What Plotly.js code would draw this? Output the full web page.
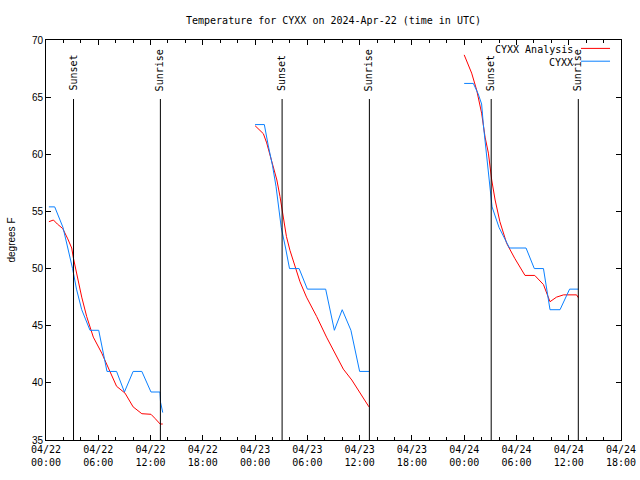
<!DOCTYPE html>
<html>
<head>
<meta charset="utf-8">
<script src="https://cdn.plot.ly/plotly-3.0.1.min.js"></script>
<style>html,body{margin:0;padding:0;background:#fff}#chart{width:640px;height:480px}</style>
</head>
<body>
<div id="chart"></div>
<script>
// Hours after 2024-04-22 00:00 UTC
var analysisHours = [0.33,0.85,1.3,1.92,2.5,2.95,3.15,3.5,4.1,4.67,5.43,6.4,7.35,8.1,9.07,10.0,11.0,12.05,12.5,13.1,13.4,
  null,
  24.0,24.56,24.95,25.33,25.9,26.5,26.86,27.24,27.6,28.0,28.58,29.15,29.9,31.07,32.2,33.17,34.13,35.1,36.04,37.07,
  null,
  48.0,48.5,48.86,49.44,50.0,50.4,50.78,51.16,51.55,52.1,52.88,53.8,54.98,56.1,57.1,57.85,58.6,59.4,60.15,60.9,61.1];
var analysisTemps = [54.1,54.25,53.9,53.5,52.6,51.8,50.9,49.6,47.5,45.8,44.0,42.6,41.0,39.7,39.1,37.9,37.3,37.25,36.9,36.4,36.4,
  null,
  62.5,62.1,61.8,61.0,59.5,57.75,56.3,54.5,52.8,51.6,50.2,48.85,47.5,45.8,44.0,42.6,41.2,40.25,39.1,37.9,
  null,
  68.7,67.8,67.1,65.6,63.6,61.5,60.1,57.75,56.0,54.1,52.2,50.9,49.4,49.4,48.6,47.1,47.5,47.7,47.7,47.7,47.45];

var obsHours = [0.33,1.0,1.95,2.5,3.05,3.5,4.1,5.05,6.05,7.0,8.1,9.0,10.0,11.0,12.05,13.08,13.15,13.4,
  null,
  24.0,25.06,25.5,26.0,26.4,26.7,27.0,27.5,27.95,29.05,30.0,32.1,33.1,34.0,35.0,36.0,37.1,
  null,
  48.0,49.05,49.6,50.0,50.2,50.45,50.7,50.95,51.2,52.0,53.2,55.1,56.05,57.1,57.85,59.0,60.1,61.1];
var obsTemps = [55.4,55.4,53.6,51.8,50.0,48.2,46.4,44.6,44.6,41.0,41.0,39.2,41.0,41.0,39.2,39.2,38.3,37.4,
  null,
  62.6,62.6,60.8,59.0,57.2,55.4,53.6,51.8,50.0,50.0,48.2,48.2,44.6,46.4,44.6,41.0,41.0,
  null,
  66.2,66.2,65.3,64.4,62.6,60.8,59.0,57.2,55.4,53.6,51.8,51.8,50.0,50.0,46.4,46.4,48.2,48.2];

var sunEventHours = [3.16,13.13,27.1,37.12,51.1,61.1];
var sunEventLabels = ["Sunset","Sunrise","Sunset","Sunrise","Sunset","Sunrise"];

var seriesNames = ["CYXX Analysis","CYXX"];
var seriesColors = ["#ff0000","#0a80ff"];

var baseMs = Date.UTC(2024,3,22,0,0,0);
function toDate(h){
  if(h===null) return null;
  return new Date(baseMs + h*3600000).toISOString().replace('T',' ').slice(0,19);
}

var mono = "DejaVu Sans Mono, Liberation Mono, monospace";
var sans = "Liberation Sans, Arial, sans-serif";

var traces = [
  {x: analysisHours.map(toDate), y: analysisTemps, type:'scatter', mode:'lines', name: seriesNames[0],
   line:{color:seriesColors[0], width:1}, connectgaps:false},
  {x: obsHours.map(toDate), y: obsTemps, type:'scatter', mode:'lines', name: seriesNames[1],
   line:{color:seriesColors[1], width:1}, connectgaps:false}
];

var shapes = [];
var annotations = [];
sunEventHours.forEach(function(h,i){
  shapes.push({type:'line', xref:'x', yref:'paper', x0:toDate(h), x1:toDate(h), y0:0, y1:0.8525,
    line:{color:'#000', width:1}});
  annotations.push({xref:'x', yref:'paper', x:toDate(h), y:0.8675, text:sunEventLabels[i],
    textangle:-90, showarrow:false, xanchor:'center', yanchor:'bottom',
    font:{family:mono, size:10, color:'#000'}});
});
// Legend drawn gnuplot-style (text left of sample line)
var legY = [0.976, 0.944];
seriesNames.forEach(function(n,i){
  annotations.push({xref:'paper', yref:'paper', x:0.92, y:legY[i], text:n, showarrow:false,
    xanchor:'right', yanchor:'middle', font:{family:mono, size:10, color:'#000'}});
  shapes.push({type:'line', xref:'paper', yref:'paper', x0:0.9304, x1:0.9809, y0:legY[i]+0.003, y1:legY[i]+0.003,
    line:{color:seriesColors[i], width:1}});
});

var layout = {
  width:640, height:480,
  margin:{l:46, r:19, t:40, b:40, pad:0},
  paper_bgcolor:'#fff', plot_bgcolor:'#fff',
  showlegend:false,
  title:{text:'Temperature for CYXX on 2024-Apr-22 (time in UTC)', x:0.5, xref:'paper', y:0.958, yanchor:'middle',
    font:{family:mono, size:10, color:'#000'}},
  xaxis:{type:'date', range:[toDate(0), toDate(66)], dtick:21600000, tick0:toDate(0),
    tickformat:'%m/%d<br>%H:%M', ticks:'inside', ticklen:5, tickcolor:'#000',
    showline:true, linecolor:'#000', linewidth:1, mirror:'ticks', showgrid:false, zeroline:false,
    tickfont:{family:mono, size:10, color:'#000'},
    minor:{dtick:7200000, ticks:'inside', ticklen:3, tickcolor:'#000', showgrid:false}},
  yaxis:{range:[35,70], dtick:5, ticks:'inside', ticklen:5, tickcolor:'#000',
    showline:true, linecolor:'#000', linewidth:1, mirror:'ticks', showgrid:false, zeroline:false,
    tickfont:{family:sans, size:10, color:'#000'},
    title:{text:'degrees F', font:{family:sans, size:10, color:'#000'}, standoff:14}},
  shapes:shapes,
  annotations:annotations
};

Plotly.newPlot('chart', traces, layout, {displayModeBar:false, staticPlot:true});
</script>
</body>
</html>
